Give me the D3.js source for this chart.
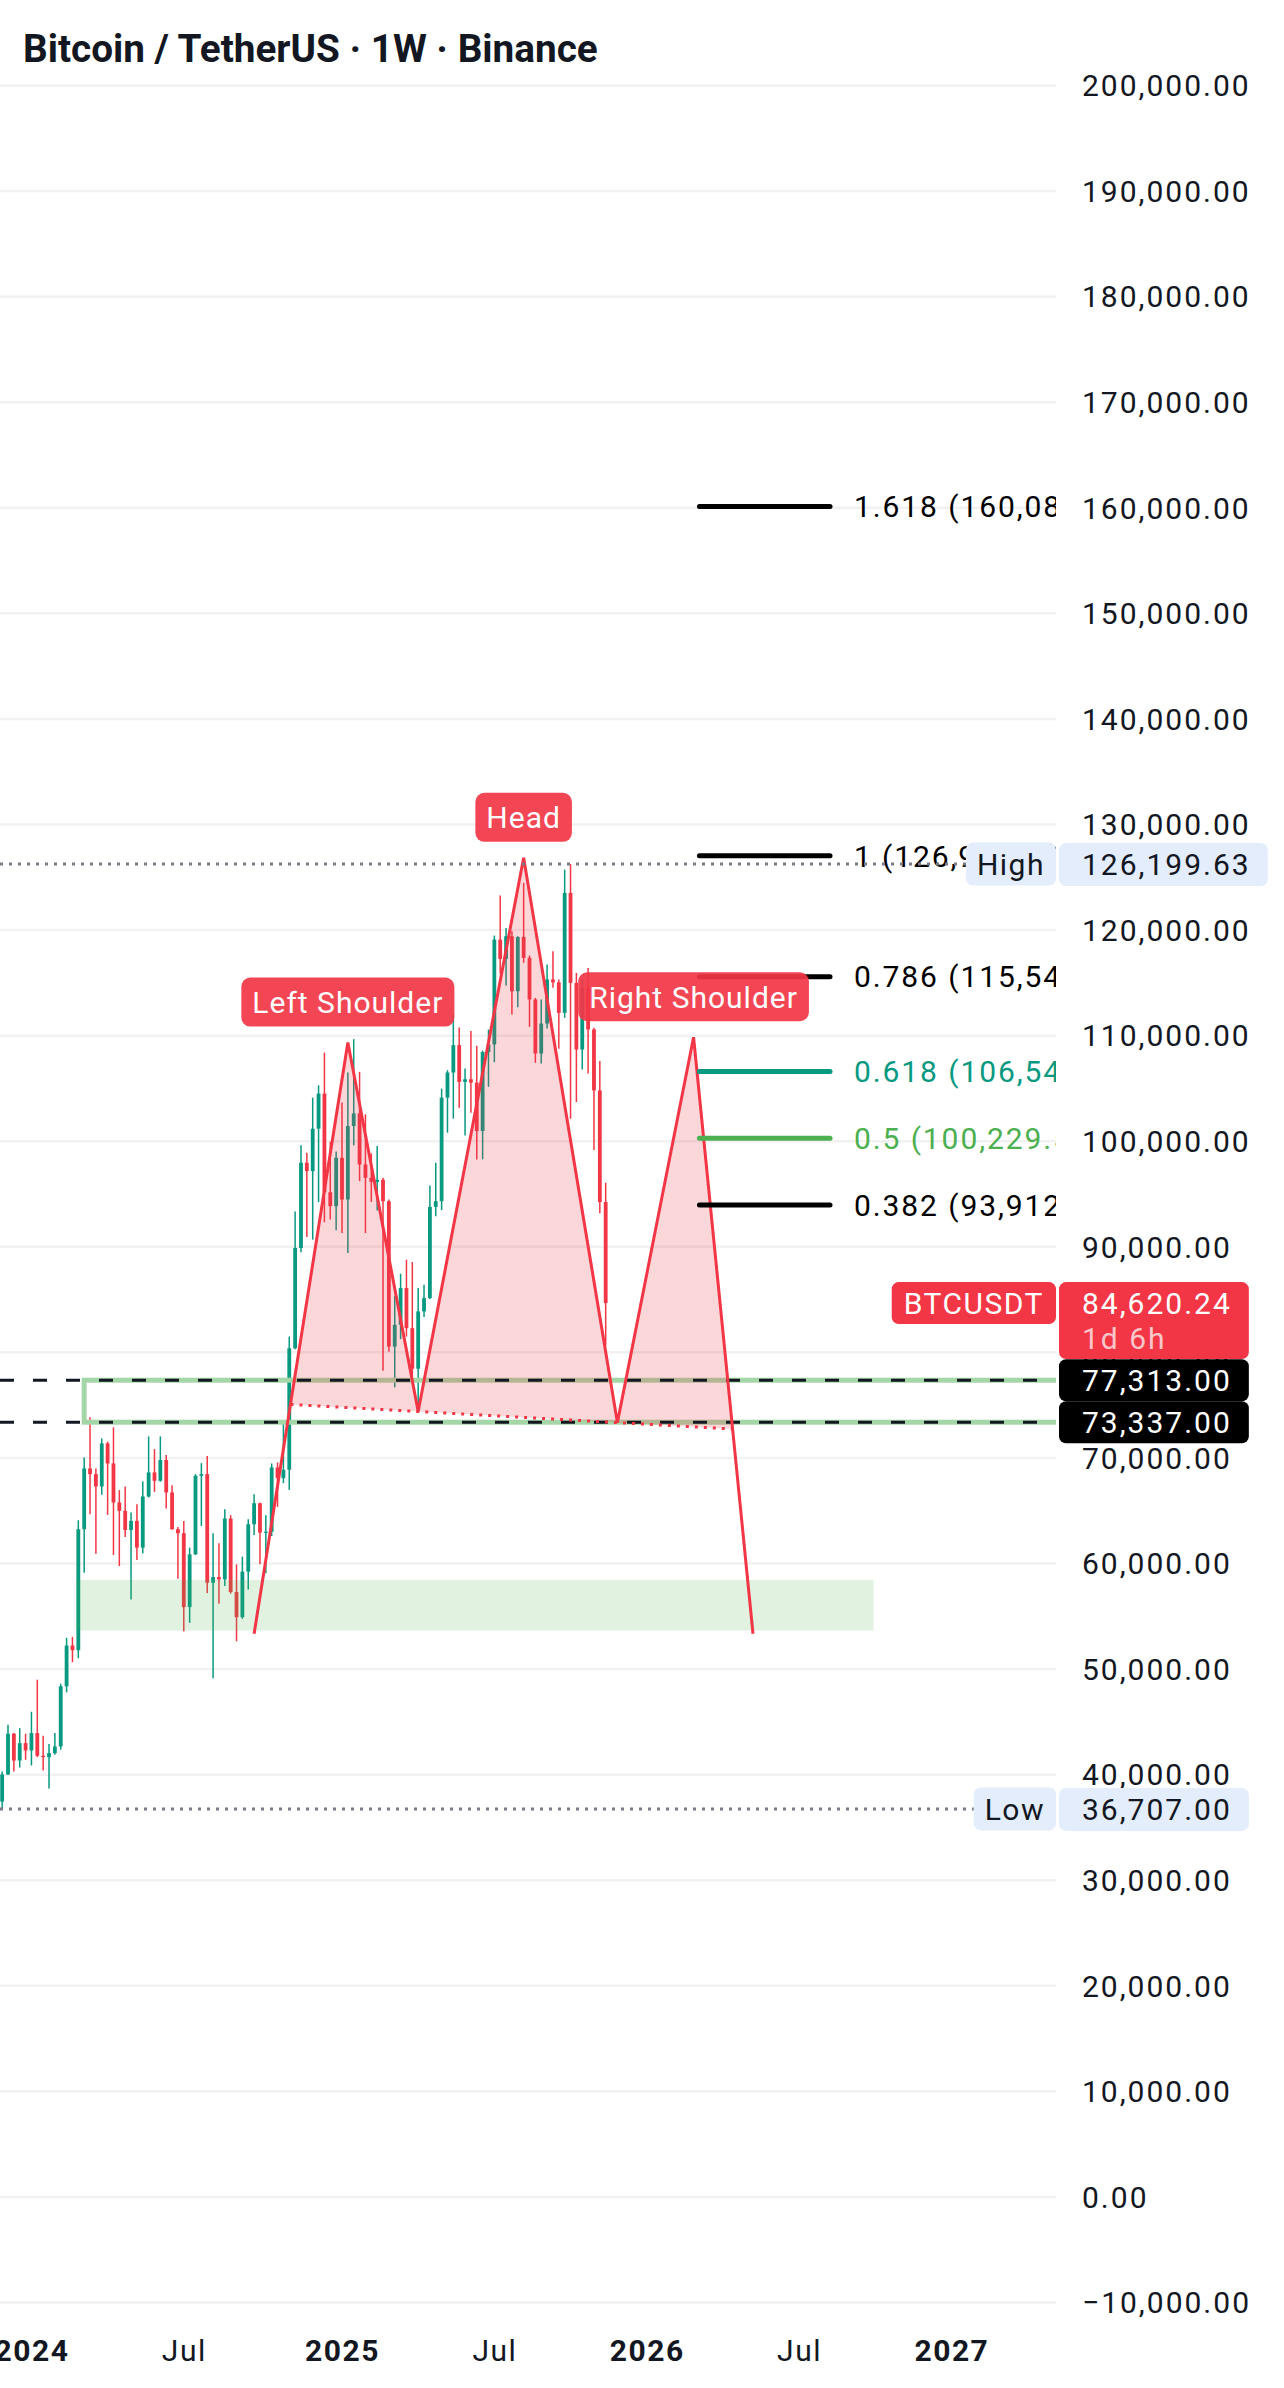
<!DOCTYPE html>
<html>
<head>
<meta charset="utf-8">
<title>BTCUSDT 1W</title>
<script src="https://d3js.org/d3.v7.min.js"></script>
<style>
  body { margin: 0; background: #fff; }
  svg { display: block; font-family: Roboto, "Noto Sans", sans-serif; }
</style>
</head>
<body>
<svg id="chart" width="1284" height="2388"></svg>
<script>
// weekly candles, first bar = week of 2023-11-27, last = week of 2025-11-17
const firstWeek = "2023-11-27";
const lastWeek = "2025-11-17";

const opens = [37400, 39970, 43830, 41290, 42940, 42240, 43890, 41740, 41610, 41990,
  42620, 48320, 52180, 51740, 63200, 68960, 68420, 67250, 71330, 69430,
  65730, 64940, 63130, 63990, 61460, 66300, 68580, 67790, 69750, 66680,
  63200, 62820, 55820, 60820, 68260, 68420, 58130, 58670, 58450, 64210,
  57250, 54870, 59180, 63670, 65660, 62880, 62970, 69050, 68040, 68830,
  80340, 89840, 97910, 97120, 101140, 104460, 95120, 93800, 98380, 94430,
  101390, 102590, 97750, 96490, 96100, 96300, 94270, 80500, 82560, 86040,
  82240, 78400, 83830, 85090, 93730, 94270, 104080, 106460, 109050, 105570,
  105820, 105500, 100920, 108400, 109120, 119050, 117220, 119370, 114160, 119300,
  117320, 113380, 108260, 111100, 115270, 115000, 112110, 123470, 114950, 108640,
  114480, 110540, 104760, 94190];
const highs = [40250, 44680, 43900, 44360, 43830, 45910, 48950, 43640, 42850, 43890,
  48570, 52910, 53000, 64050, 70000, 73800, 68960, 71800, 71500, 72850,
  66900, 67250, 64780, 65570, 67720, 71990, 70790, 71990, 70220, 67370,
  63420, 63990, 61460, 68420, 69460, 70130, 62820, 61870, 65090, 64530,
  59870, 60600, 64150, 66520, 65700, 64530, 69430, 69530, 73170, 81450,
  93290, 99560, 98860, 104080, 105250, 108350, 99900, 98990, 103610, 106460,
  109620, 106520, 102500, 98800, 99500, 96500, 94430, 85310, 87400, 88730,
  88500, 86040, 86360, 95760, 97910, 104940, 106680, 111990, 110730, 106840,
  110400, 108990, 108530, 110530, 119430, 123220, 120160, 119840, 119370, 124420,
  117540, 113530, 113380, 116690, 117950, 115270, 125680, 126199.63, 115900, 115330,
  116370, 110690, 107540, 96020];
const lows = [36707, 39930, 40250, 40630, 41360, 40820, 41610, 40350, 38640, 41830,
  42310, 47750, 50600, 50980, 59080, 64620, 60880, 66460, 64560, 60760,
  59710, 62470, 56550, 60280, 60890, 66200, 66740, 67690, 65160, 63150,
  58500, 53540, 54330, 60760, 63510, 57150, 49080, 56140, 57820, 57100,
  52590, 54710, 57500, 62660, 59870, 59020, 62560, 65320, 67560, 66930,
  80250, 89430, 90880, 90630, 94180, 92280, 92530, 91520, 91260, 89360,
  99560, 96170, 91260, 94200, 93400, 78220, 80030, 76640, 81200, 81450,
  77500, 74400, 83290, 85000, 92850, 93420, 100760, 102090, 103130, 100500,
  102650, 98230, 98240, 105100, 107440, 115840, 114700, 111950, 112650, 116850,
  110790, 107380, 107320, 110630, 114480, 108700, 111640, 102080, 103660, 106750,
  106370, 99110, 93120, 80600];
const closes = [39970, 43830, 41290, 42940, 42240, 43890, 41740, 41610, 41990, 42620,
  48320, 52180, 51740, 63200, 68960, 68420, 67250, 71330, 69430, 65730,
  64940, 63130, 63990, 61460, 66300, 68580, 67790, 69750, 66680, 63200,
  62820, 55820, 60820, 68260, 68420, 58130, 58670, 58450, 64210, 57250,
  54870, 59180, 63670, 65660, 62880, 62970, 69050, 68040, 68830, 80340,
  89840, 97910, 97120, 101140, 104460, 95120, 93800, 98380, 94430, 101390,
  102590, 97750, 96490, 96100, 96300, 94270, 80500, 82560, 86040, 82240,
  78400, 83830, 85090, 93730, 94270, 104080, 106460, 109050, 105570, 105820,
  105500, 100920, 108400, 109120, 119050, 117220, 119370, 114160, 119300, 117320,
  113380, 108260, 111100, 115270, 115000, 112110, 123470, 114950, 108640, 114480,
  110540, 104760, 94190, 84620.24];

// time axis
const tickDates = ["2024-01-01", "2024-07-01", "2025-01-06", "2025-07-07", "2026-01-05", "2026-07-06", "2027-01-04"];
const tickLabels = ["2024", "Jul", "2025", "Jul", "2026", "Jul", "2027"];

// head & shoulders drawing
const hsDates = ["2024-09-23", "2025-01-13", "2025-04-07", "2025-08-11", "2025-12-01", "2026-03-02", "2026-05-12"];
const hsPrices = [53300, 109300, 74350, 126800, 73300, 109800, 53300];

// fib extension
const fibRatios = ["1.618", "1", "0.786", "0.618", "0.5", "0.382"];
const fibPrices = [160081.0, 126996.7, 115540.3, 106546.6, 100229.5, 93912.4];
const fibColors = ["#000000", "#000000", "#000000", "#089981", "#4caf50", "#000000"];
const fibFrom = "2026-03-09", fibTo = "2026-08-12";

// horizontal levels and zones
const levelPrices = [77313, 73337];
const boxFrom = "2024-03-04";
const zoneFrom = "2024-02-23", zoneTo = "2026-10-03";
const zoneTop = 58400, zoneBottom = 53600;
const highPrice = 126199.63, lowPrice = 36707;
const lastPrice = 84620.24, countdown = "1d 6h";

const up = "#089981", down = "#f23645";
const W = 1284, plotRight = 1056;

const svg = d3.select("#chart");
const parse = d3.utcParse("%Y-%m-%d");
const fmt = d3.format(",.2f");

const weeks = d3.utcMonday.range(parse(firstWeek), d3.utcDay.offset(parse(lastWeek), 1));
const candles = weeks.map((d, i) => ({date: d, o: opens[i], h: highs[i], l: lows[i], c: closes[i]}));

const x = d3.scaleUtc()
    .domain([parse("2025-01-06"), parse("2027-01-04")])
    .range([342, 951.4]);
const y = d3.scaleLinear()
    .domain([-10000, 200000])
    .range([2302, 85]);

svg.append("rect").attr("width", W).attr("height", 2388).attr("fill", "#fff");
svg.append("defs").append("clipPath").attr("id", "plot")
    .append("rect").attr("x", 0).attr("y", 0).attr("width", plotRight).attr("height", 2330);

// grid
const priceTicks = d3.range(-10000, 200001, 10000);
svg.append("g")
    .attr("transform", `translate(${plotRight},0)`)
    .call(d3.axisRight(y).tickValues(priceTicks).tickSize(-plotRight).tickFormat(""))
    .call(g => g.select(".domain").remove())
    .call(g => g.selectAll("line").attr("stroke", "#f1f1f1").attr("stroke-width", 2.5));

const plot = svg.append("g").attr("clip-path", "url(#plot)");

// candles
const bodyW = 3.8;
plot.append("g").selectAll("line").data(candles).join("line")
    .attr("x1", d => x(d.date)).attr("x2", d => x(d.date))
    .attr("y1", d => y(d.h)).attr("y2", d => y(d.l))
    .attr("stroke", d => d.c >= d.o ? up : down)
    .attr("stroke-width", 1.5);
plot.append("g").selectAll("rect").data(candles).join("rect")
    .attr("x", d => x(d.date) - bodyW / 2)
    .attr("width", bodyW)
    .attr("y", d => y(Math.max(d.o, d.c)))
    .attr("height", d => Math.max(1.2, Math.abs(y(d.o) - y(d.c))))
    .attr("fill", d => d.c >= d.o ? up : down);

// green demand zone
plot.append("rect")
    .attr("x", x(parse(zoneFrom))).attr("width", x(parse(zoneTo)) - x(parse(zoneFrom)))
    .attr("y", y(zoneTop)).attr("height", y(zoneBottom) - y(zoneTop))
    .attr("fill", "rgba(76,175,80,0.17)");

// green outlined box between the two levels
plot.append("rect")
    .attr("x", x(parse(boxFrom))).attr("width", 1200)
    .attr("y", y(levelPrices[0])).attr("height", y(levelPrices[1]) - y(levelPrices[0]))
    .attr("fill", "none").attr("stroke", "#a5d6a7").attr("stroke-width", 5);

// head & shoulders
const pts = hsDates.map((d, i) => [x(parse(d)), y(hsPrices[i])]);
function cross(p1, p2, p3, p4) {
    const d = (p1[0] - p2[0]) * (p3[1] - p4[1]) - (p1[1] - p2[1]) * (p3[0] - p4[0]);
    const t = ((p1[0] - p3[0]) * (p3[1] - p4[1]) - (p1[1] - p3[1]) * (p3[0] - p4[0])) / d;
    return [p1[0] + t * (p2[0] - p1[0]), p1[1] + t * (p2[1] - p1[1])];
}
const nL = cross(pts[0], pts[1], pts[2], pts[4]);
const nR = cross(pts[5], pts[6], pts[2], pts[4]);
const fillPts = [nL, pts[1], pts[2], pts[3], pts[4], pts[5], nR];

plot.append("path")
    .attr("d", d3.line()(fillPts) + "Z")
    .attr("fill", "rgba(242,54,69,0.2)");

// dashed levels
plot.append("g").selectAll("line").data(levelPrices).join("line")
    .attr("x1", 0).attr("x2", plotRight)
    .attr("y1", d => y(d)).attr("y2", d => y(d))
    .attr("stroke", "#131722").attr("stroke-width", 3)
    .attr("stroke-dasharray", "14,19");

plot.append("line")
    .attr("x1", nL[0]).attr("y1", nL[1]).attr("x2", nR[0]).attr("y2", nR[1])
    .attr("stroke", down).attr("stroke-width", 3).attr("stroke-dasharray", "3,6");

plot.append("path")
    .attr("d", d3.line()(pts))
    .attr("fill", "none").attr("stroke", down).attr("stroke-width", 3)
    .attr("stroke-linejoin", "miter");

// fib levels
const fib = fibRatios.map((r, i) => ({r, p: fibPrices[i], c: fibColors[i]}));
plot.append("g").selectAll("line").data(fib).join("line")
    .attr("x1", x(parse(fibFrom))).attr("x2", x(parse(fibTo)))
    .attr("y1", d => y(d.p)).attr("y2", d => y(d.p))
    .attr("stroke", d => d.c).attr("stroke-width", 5).attr("stroke-linecap", "round");
plot.append("g").selectAll("text").data(fib).join("text")
    .attr("x", x(parse(fibTo)) + 24)
    .attr("y", d => y(d.p)).attr("dy", "0.36em")
    .attr("fill", d => d.c)
    .style("font-size", "30px").style("letter-spacing", "1.9px")
    .text(d => `${d.r} (${fmt(d.p)})`);

// high / low markers
const hl = [{name: "High", p: highPrice}, {name: "Low", p: lowPrice}];
hl.forEach(m => {
    const yy = y(m.p);
    const t = svg.append("text").attr("y", yy).attr("dy", "0.36em")
        .style("font-size", "30px").style("letter-spacing", "1.5px")
        .attr("fill", "#131722").text(m.name);
    const tw = t.node().getBBox().width;
    const bx = plotRight - tw - 22;
    svg.append("line").attr("x1", 0).attr("x2", bx).attr("y1", yy).attr("y2", yy)
        .attr("stroke", "#787b86").attr("stroke-width", 3).attr("stroke-dasharray", "3,6");
    svg.insert("rect", () => t.node())
        .attr("x", bx).attr("y", yy - 21.5).attr("width", plotRight - bx).attr("height", 43)
        .attr("rx", 7).attr("fill", "#e3edfc");
    t.attr("x", bx + 11);
});

// pattern labels
const hsLabels = [{name: "Left Shoulder", p: pts[1]}, {name: "Head", p: pts[3]}, {name: "Right Shoulder", p: pts[5]}];
hsLabels.forEach(l => {
    const g = svg.append("g");
    const t = g.append("text").attr("x", l.p[0]).attr("y", l.p[1] - 16 - 24.5).attr("dy", "0.36em")
        .attr("text-anchor", "middle").attr("fill", "#fff")
        .style("font-size", "30px").style("letter-spacing", "1px")
        .text(l.name);
    const tw = t.node().getBBox().width;
    g.insert("rect", "text")
        .attr("x", l.p[0] - tw / 2 - 11).attr("width", tw + 22)
        .attr("y", l.p[1] - 16 - 49).attr("height", 49)
        .attr("rx", 9).attr("fill", "rgba(242,54,69,0.92)");
});

// price axis labels
svg.append("g")
    .attr("transform", `translate(1082,0)`)
    .call(d3.axisRight(y).tickValues(priceTicks).tickSize(0).tickPadding(0).tickFormat(fmt))
    .call(g => g.select(".domain").remove())
    .call(g => g.selectAll("text")
        .attr("fill", "#131722").attr("dy", "0.36em")
        .style("font-family", "Roboto, sans-serif")
        .style("font-size", "30px").style("letter-spacing", "2px"));

// price boxes on the axis
function valueBox(price, text, bg, fg, h) {
    const yy = y(price);
    const t = svg.append("text").attr("x", 1082).attr("y", yy).attr("dy", "0.36em")
        .attr("fill", fg).style("font-size", "30px").style("letter-spacing", "2px").text(text);
    const tw = t.node().getBBox().width;
    svg.insert("rect", () => t.node())
        .attr("x", 1059).attr("y", yy - 21).attr("width", tw + 40).attr("height", h)
        .attr("rx", 7).attr("fill", bg);
    return tw;
}
valueBox(highPrice, fmt(highPrice), "#e3edfc", "#131722", 43);
valueBox(lowPrice, fmt(lowPrice), "#e3edfc", "#131722", 43);
levelPrices.forEach(p => valueBox(p, fmt(p), "#000000", "#ffffff", 42));

// last price label
const lp = y(lastPrice);
const sym = svg.append("text").attr("y", lp).attr("dy", "0.36em").attr("fill", "#fff")
    .style("font-size", "30px").style("letter-spacing", "1.5px").text("BTCUSDT");
const sw = sym.node().getBBox().width;
svg.insert("rect", () => sym.node())
    .attr("x", plotRight - sw - 24).attr("y", lp - 21).attr("width", sw + 24).attr("height", 42)
    .attr("rx", 7).attr("fill", down);
sym.attr("x", plotRight - sw - 12);
valueBox(lastPrice, fmt(lastPrice), down, "#ffffff", 77);
svg.append("text").attr("x", 1082).attr("y", lp + 35).attr("dy", "0.36em")
    .attr("fill", "rgba(255,255,255,0.72)")
    .style("font-size", "30px").style("letter-spacing", "2px").text(countdown);

// time axis
svg.append("g")
    .attr("transform", `translate(0,2350)`)
    .call(d3.axisBottom(x).tickValues(tickDates.map(parse)).tickSize(0).tickPadding(0)
        .tickFormat((d, i) => tickLabels[i]))
    .call(g => g.select(".domain").remove())
    .call(g => g.selectAll("text")
        .attr("dy", "0.36em").attr("fill", "#131722")
        .style("font-family", "Roboto, sans-serif")
        .style("font-size", "30px").style("letter-spacing", "1.5px")
        .style("font-weight", (d, i) => tickLabels[i] === "Jul" ? 400 : 700));

// title
svg.append("text")
    .attr("x", 23).attr("y", 62)
    .attr("fill", "#131722")
    .style("font-size", "38.7px").style("font-weight", 700)
    .text("Bitcoin / TetherUS · 1W · Binance");
</script>
</body>
</html>
